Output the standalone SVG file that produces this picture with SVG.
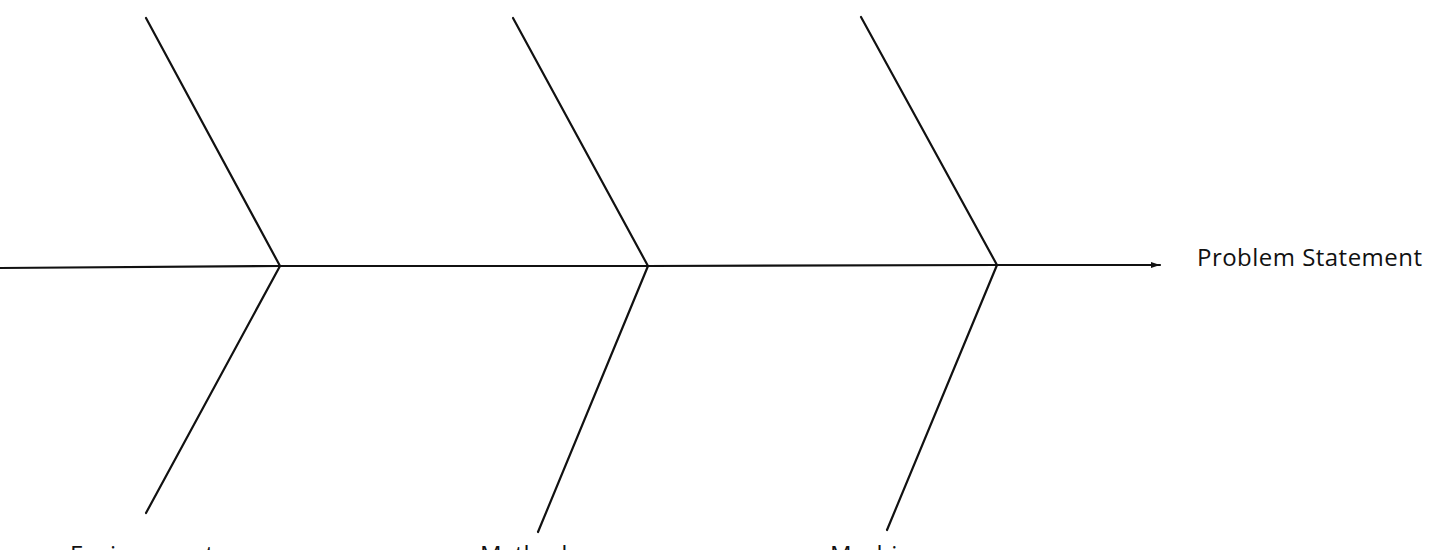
<svg xmlns="http://www.w3.org/2000/svg" width="1440" height="550" viewBox="0 0 1440 550">
<style>
.bone{stroke:#111;stroke-width:2.2;fill:none;stroke-linecap:round}
.lbl{font-family:"Open Sans","Liberation Sans",sans-serif;font-size:24px;fill:#111}
</style>
<defs>
<marker id="ah" markerWidth="10" markerHeight="8" refX="9" refY="4" orient="auto" markerUnits="userSpaceOnUse">
<path d="M0,1 L9,4 L0,7 Z" fill="#111"/>
</marker>
</defs>
<rect width="1440" height="550" fill="#fff"/>
<g id="connectors">
<path class="bone" d="M0,268 L280,266 L648,266 L997,265 L1160,265" marker-end="url(#ah)"/>
<path class="bone" d="M146,18 L280,266 L146,513"/>
<path class="bone" d="M513,18 L648,266 L538,532"/>
<path class="bone" d="M861,17 L997,265 L887,530"/>
</g>
<g id="problem"><text class="lbl" x="1197" y="266" textLength="225">Problem Statement</text></g>
<g id="environment"><text class="lbl" x="70" y="563">Environment</text></g>
<g id="methods"><text class="lbl" x="480" y="563">Methods</text></g>
<g id="machines"><text class="lbl" x="830" y="563">Machines</text></g>
</svg>
